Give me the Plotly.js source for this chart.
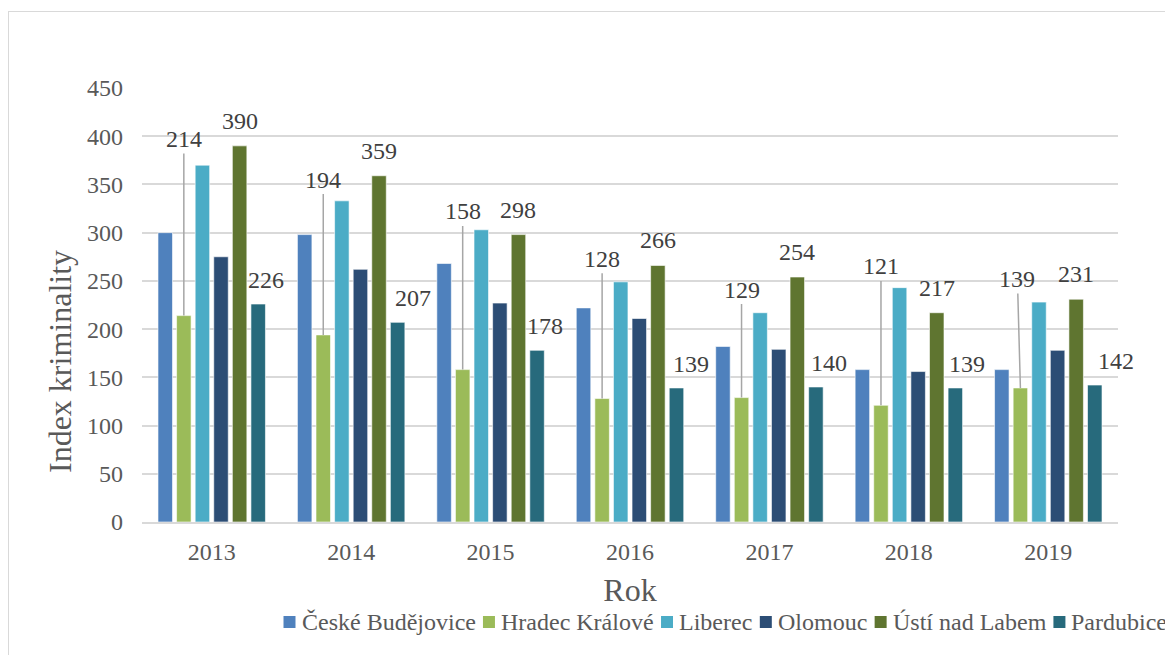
<!DOCTYPE html>
<html>
<head>
<meta charset="utf-8">
<script src="https://cdn.plot.ly/plotly-3.0.1.min.js"></script>
<style>
  html, body { margin: 0; padding: 0; background: #ffffff; }
  #frame { position: absolute; left: 8px; top: 11px; width: 2000px; height: 2000px;
           border-left: 1px solid #D9D9D9; border-top: 1px solid #D9D9D9; }
  #chart { position: absolute; left: 0; top: 0; width: 1165px; height: 655px; }
</style>
</head>
<body>
<div id="frame"></div>
<div id="chart"></div>
<script>
// ---- data ----
const years = ['2013', '2014', '2015', '2016', '2017', '2018', '2019'];
const seriesNames = ['České Budějovice', 'Hradec Králové', 'Liberec', 'Olomouc', 'Ústí nad Labem', 'Pardubice'];
const ceskeBudejovice = [300, 298, 268, 222, 182, 158, 158];
const hradecKralove   = [214, 194, 158, 128, 129, 121, 139];
const liberec         = [370, 333, 303, 249, 217, 243, 228];
const olomouc         = [275, 262, 227, 211, 179, 156, 178];
const ustiNadLabem    = [390, 359, 298, 266, 254, 217, 231];
const pardubice       = [226, 207, 178, 139, 140, 139, 142];
const yTicks = [0, 50, 100, 150, 200, 250, 300, 350, 400, 450];
const xTitle = 'Rok';
const yTitle = 'Index kriminality';

// ---- styling / layout constants ----
const colors = ['#4F81BD', '#9BBB59', '#4BACC6', '#2C4D75', '#5F7530', '#276A7C'];
const W = 1165, H = 655, ML = 142, MR = 47, MT = 88, MB = 133;
const BARGAP = 0.2, BARGROUPGAP = 0.22;
const FONT = 'Liberation Serif, Times New Roman, serif';
// positions of the callout labels of Hradec Králové (in axis units)
const hkLabelY = [397, 355, 322, 273, 241, 265, 252];
const hkLabelDx = [0, 0, 0, 0, 0, 0, -3];
const pardLabelDx = [8, 15, 8, 15, 13, 12, 21];

const allSeries = [ceskeBudejovice, hradecKralove, liberec, olomouc, ustiNadLabem, pardubice];

const traces = allSeries.map((vals, i) => ({
  type: 'bar',
  name: seriesNames[i],
  x: years,
  y: vals,
  marker: { color: colors[i], line: { color: '#ffffff', width: 0.6 } },
  showlegend: false,
  hoverinfo: 'x+y+name'
}));

const plotW = W - ML - MR, plotH = H - MT - MB;
const catW = plotW / years.length;
const slot = catW * (1 - BARGAP) / allSeries.length;
const offsetOf = s => (s - (allSeries.length - 1) / 2) * slot;
const toPX = px => (px - ML) / plotW;
const toPY = py => (H - MB - py) / plotH;

const labelFont = { family: FONT, size: 24, color: '#404040' };
const annotations = [];
years.forEach((yr, j) => {
  annotations.push({
    x: j, y: hradecKralove[j], xref: 'x', yref: 'y',
    xshift: offsetOf(1),
    text: String(hradecKralove[j]),
    showarrow: true, arrowhead: 0, arrowwidth: 1.5, arrowcolor: '#A6A6A6',
    axref: 'pixel', ax: hkLabelDx[j], ayref: 'y', ay: hkLabelY[j],
    standoff: 0, font: labelFont
  });
  annotations.push({
    x: j, y: ustiNadLabem[j], xref: 'x', yref: 'y',
    xshift: offsetOf(4), yshift: 25, yanchor: 'middle',
    text: String(ustiNadLabem[j]), showarrow: false, font: labelFont
  });
  annotations.push({
    x: j, y: pardubice[j], xref: 'x', yref: 'y',
    xshift: offsetOf(5) + pardLabelDx[j], yshift: 24, yanchor: 'middle',
    text: String(pardubice[j]), showarrow: false, font: labelFont
  });
});

// y axis title (placed as in the reference, below the plot centre)
annotations.push({
  xref: 'paper', yref: 'paper', x: toPX(60), y: toPY(362),
  xanchor: 'center', yanchor: 'middle', textangle: -90, showarrow: false,
  text: yTitle, font: { family: FONT, size: 32, color: '#595959' }
});

// custom legend (tight Excel-like spacing)
const legendFontSize = 24;
const ctx = document.createElement('canvas').getContext('2d');
ctx.font = legendFontSize + 'px "Liberation Serif"';
const legendY = 622;
const shapes = [];
let cursor = 283.5;
seriesNames.forEach((name, i) => {
  shapes.push({
    type: 'rect', xref: 'paper', yref: 'paper',
    x0: toPX(cursor), x1: toPX(cursor + 12),
    y0: toPY(legendY + 6), y1: toPY(legendY - 6),
    fillcolor: colors[i], line: { width: 0 }
  });
  annotations.push({
    xref: 'paper', yref: 'paper', x: toPX(cursor + 16), y: toPY(legendY),
    xanchor: 'left', yanchor: 'middle', showarrow: false, text: name,
    font: { family: FONT, size: legendFontSize, color: '#595959' }
  });
  cursor += 16 + ctx.measureText(name).width + 9.5;
});

const layout = {
  width: W, height: H,
  margin: { l: ML, r: MR, t: MT, b: MB, pad: 0 },
  paper_bgcolor: 'rgba(0,0,0,0)',
  plot_bgcolor: 'rgba(0,0,0,0)',
  barmode: 'group',
  bargap: BARGAP,
  bargroupgap: BARGROUPGAP,
  showlegend: false,
  font: { family: FONT, color: '#595959' },
  xaxis: {
    type: 'category',
    range: [-0.5, years.length - 0.5],
    showgrid: false, zeroline: false,
    showline: true, linecolor: '#D9D9D9', linewidth: 1.5,
    ticks: '', ticklabelstandoff: 7,
    tickfont: { family: FONT, size: 24, color: '#595959' },
    title: { text: xTitle, font: { family: FONT, size: 32, color: '#595959' }, standoff: 15 },
    automargin: false
  },
  yaxis: {
    range: [0, 450],
    tickvals: yTicks, ticktext: yTicks.map(String),
    showgrid: true, gridcolor: '#D9D9D9', gridwidth: 1.5,
    zeroline: false, showline: false,
    ticks: '', ticklabelstandoff: 18,
    tickfont: { family: FONT, size: 24, color: '#595959' },
    automargin: false
  },
  annotations: annotations,
  shapes: shapes
};

Plotly.newPlot('chart', traces, layout, { displayModeBar: false });
</script>
</body>
</html>
